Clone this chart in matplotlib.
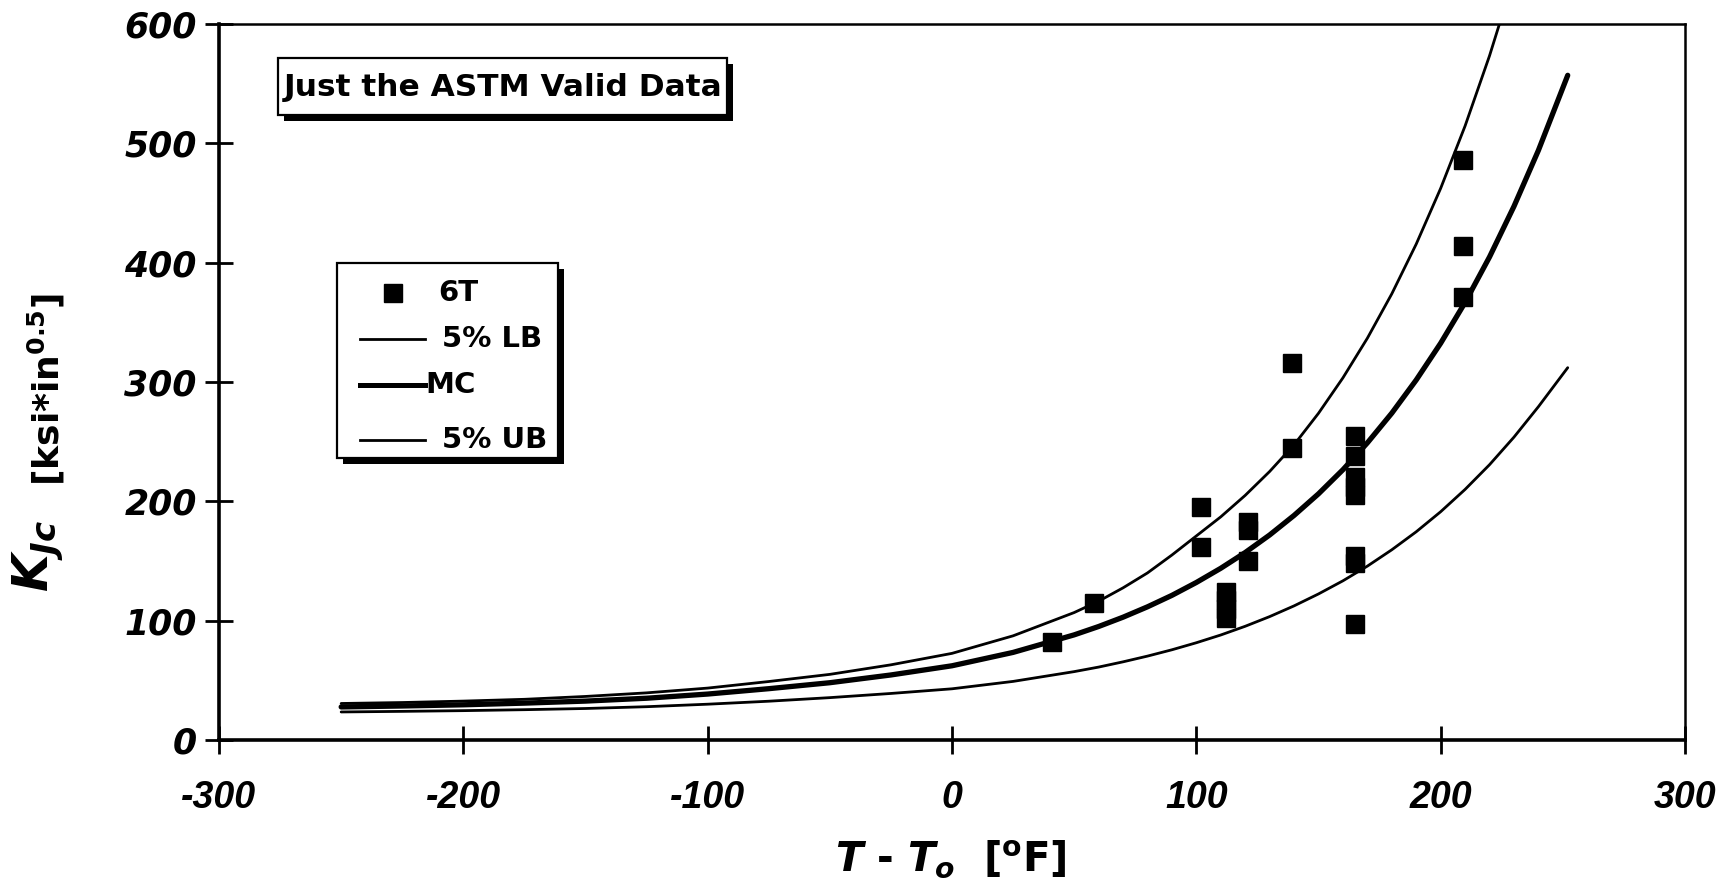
import matplotlib
matplotlib.use("Agg")
import matplotlib.pyplot as plt
from matplotlib.patches import Rectangle
from matplotlib.lines import Line2D

# ---- data -------------------------------------------------------------
# temperature grid of the curves, T - To [F]
t_curve = [-250, -225, -200, -175, -150, -125, -100, -75, -50, -25, 0, 25, 50,
           60, 70, 80, 90, 100, 110, 120, 130, 140, 150, 160, 170, 180, 190,
           200, 210, 220, 230, 240, 252]
# median master curve (thick)
kjc_mc = [27.7, 28.5, 29.5, 30.9, 32.6, 35.0, 38.5, 43.0, 48.0, 54.5, 62.2,
          73.4, 88.1, 95.1, 102.9, 111.6, 121.2, 132.0, 143.9, 157.1, 171.8,
          188.2, 206.3, 226.5, 249.0, 273.9, 301.7, 332.5, 366.7, 404.8,
          447.2, 494.1, 557.0]
# upper thin bound (leaves the frame at the top)
t_upper = t_curve[:31]
kjc_upper = [30.6, 31.4, 32.6, 34.1, 36.5, 39.5, 43.5, 49.0, 55.0, 63.0, 72.6,
             87.3, 106.8, 116.3, 127.5, 140.0, 155.0, 171.0, 187.0, 205.0,
             225.0, 247.4, 273.8, 303.5, 336.7, 373.9, 415.6, 462.3, 514.6,
             573.4, 639.0]
# lower thin bound
kjc_lower = [23.5, 24.0, 24.6, 25.4, 26.4, 27.9, 30.0, 32.5, 35.5, 39.0, 42.9,
             49.1, 57.3, 61.1, 65.5, 70.3, 75.6, 81.5, 88.0, 95.3, 103.4,
             112.4, 122.4, 133.4, 145.7, 159.4, 174.5, 191.3, 210.0, 230.7,
             253.8, 279.3, 312.0]

# 6T specimens
t_6t = [41, 58, 102, 102, 112, 112, 112, 112, 121, 121, 121, 139, 139,
        165, 165, 165, 165, 165, 165, 165, 165, 209, 209, 209]
kjc_6t = [82, 115, 195, 162, 124, 117, 110, 102, 183, 176, 150, 316, 245,
          255, 238, 220, 212, 205, 154, 148, 97, 486, 414, 371]

x_ticks = [-300, -200, -100, 0, 100, 200, 300]
x_tick_labels = ["-300", "-200", "-100", "0", "100", "200", "300"]
y_ticks = [0, 100, 200, 300, 400, 500, 600]
y_tick_labels = ["0", "100", "200", "300", "400", "500", "600"]
legend_labels = ["6T", "5% LB", "MC", "5% UB"]
title_text = "Just the ASTM Valid Data"

# ---- fonts --------------------------------------------------------------
plt.rcParams["mathtext.fontset"] = "custom"
plt.rcParams["mathtext.rm"] = "DejaVu Sans:bold"
plt.rcParams["mathtext.bf"] = "DejaVu Sans:bold"
plt.rcParams["mathtext.it"] = "DejaVu Sans:italic:bold"
plt.rcParams["axes.unicode_minus"] = False

W, H = 1735, 888


def fx(px):
    return px / W


def fy(py):
    return 1 - py / H


fig = plt.figure(figsize=(W / 100, H / 100), dpi=100)
fig.patch.set_facecolor("white")
ax = fig.add_axes([fx(219), fy(740), (1685 - 219) / W, (740 - 24) / H])

# ---- curves and points ----------------------------------------------------
ax.plot(t_upper, kjc_upper, color="black", lw=2.0, solid_capstyle="round")
ax.plot(t_curve, kjc_lower, color="black", lw=2.0, solid_capstyle="round")
ax.plot(t_curve, kjc_mc, color="black", lw=3.8, solid_capstyle="round")
ax.plot(t_6t, kjc_6t, ls="none", marker="s", ms=13.5, color="black")

ax.set_xlim(-300, 300)
ax.set_ylim(0, 600)

for side, lw in (("left", 2.6), ("bottom", 2.6), ("top", 1.8), ("right", 1.8)):
    ax.spines[side].set_linewidth(lw)
    ax.spines[side].set_color("black")

ax.set_xticks(x_ticks, labels=x_tick_labels, fontsize=27,
              fontfamily="Liberation Sans", fontweight="bold",
              fontstyle="italic")
ax.set_yticks(y_ticks, labels=y_tick_labels, fontsize=25,
              fontfamily="DejaVu Sans", fontweight="bold",
              fontstyle="italic")
ax.tick_params(axis="x", direction="inout", length=20, width=2, top=False,
               pad=19)
ax.tick_params(axis="y", direction="inout", length=20, width=2, right=False,
               pad=6)

# ---- axis titles ---------------------------------------------------------
fig.text(fx(951), fy(860), r"$T$ - $T_o$  [$^{\mathrm{o}}$F]",
         fontsize=29, fontfamily="DejaVu Sans", fontweight="bold",
         ha="center", va="center")
fig.text(fx(38), fy(556), r"$K_{Jc}$", fontsize=35, rotation=90,
         ha="center", va="center")
fig.text(fx(46), fy(390), r"[ksi*in$^{0.5}$]", fontsize=26,
         fontfamily="DejaVu Sans", fontweight="bold", rotation=90,
         ha="center", va="center")


# ---- boxes with drop shadow ------------------------------------------------
def shadow_box(left, top, right, bottom, off=6):
    w = (right - left) / W
    h = (bottom - top) / H
    fig.add_artist(Rectangle((fx(left + off), fy(bottom + off)), w, h,
                             facecolor="black", edgecolor="black", lw=0,
                             zorder=5))
    fig.add_artist(Rectangle((fx(left), fy(bottom)), w, h,
                             facecolor="white", edgecolor="black", lw=1.6,
                             zorder=6))


shadow_box(278, 58, 727, 115)
fig.text(fx(503), fy(87), title_text, fontsize=22.5, fontfamily="DejaVu Sans",
         fontweight="bold", ha="center", va="center", zorder=7)

shadow_box(337, 263, 558, 458)
fig.add_artist(Line2D([fx(393)], [fy(293)], ls="none", marker="s", ms=13.5,
                      color="black", zorder=7))
fig.add_artist(Line2D([fx(360), fx(425)], [fy(339)] * 2, lw=2.0,
                      color="black", zorder=7))
fig.add_artist(Line2D([fx(360), fx(425)], [fy(385)] * 2, lw=3.6,
                      color="black", zorder=7))
fig.add_artist(Line2D([fx(360), fx(425)], [fy(440)] * 2, lw=2.0,
                      color="black", zorder=7))
for (px, py), lab in zip([(438, 293), (442, 339), (425, 385), (442, 440)],
                         legend_labels):
    fig.text(fx(px), fy(py), lab, fontsize=21, fontfamily="DejaVu Sans",
             fontweight="bold", ha="left", va="center", zorder=7)

fig.savefig("out.png", dpi=100, facecolor="white")
